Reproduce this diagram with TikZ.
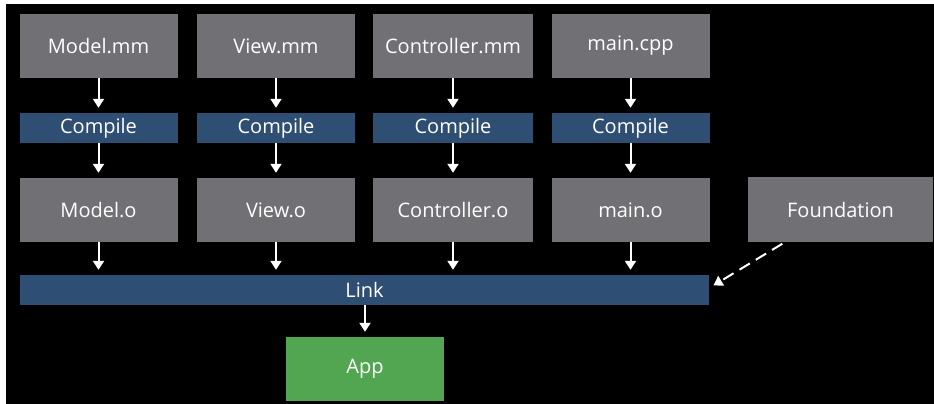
\documentclass[tikz,border=0pt]{standalone}
\usepackage{fontspec}
\setmainfont{Open Sans}
\usetikzlibrary{arrows.meta, calc}
\definecolor{srcgray}{RGB}{113, 112, 117}
\definecolor{stepblue}{RGB}{46, 78, 115}
\definecolor{appgreen}{RGB}{82, 166, 82}

\tikzset{
  srcbox/.style={fill=srcgray, text=white, minimum width=158pt, minimum height=64pt, inner sep=0pt, font=\fontsize{20}{24}\selectfont},
  stepbar/.style={fill=stepblue, text=white, minimum width=158pt, minimum height=30pt, inner sep=0pt, font=\fontsize{20}{24}\selectfont},
  flow/.style={draw=white, line width=2pt, -{Triangle[length=9pt, width=11pt]}, shorten >=5pt}
}

\begin{document}
\begin{tikzpicture}[x=1pt, y=-1pt]
  % Background
  \fill[white] (0, 0) rectangle (934, 404);
  \fill[black] (6, 4) rectangle (934, 404);
  \useasboundingbox (0, 0) rectangle (934, 404);

  % Sources
  \node[srcbox] (modelmm) at (98.5, 46) {Model.mm};
  \node[srcbox] (viewmm) at (276, 46) {View.mm};
  \node[srcbox, minimum width=160pt] (ctrlmm) at (453, 46) {Controller.mm};
  \node[srcbox] (maincpp) at (630.5, 46) {main.cpp};

  % Compile steps
  \node[stepbar] (cmodel) at (98.5, 128) {Compile};
  \node[stepbar] (cview) at (276, 128) {Compile};
  \node[stepbar, minimum width=160pt] (cctrl) at (453, 128) {Compile};
  \node[stepbar] (cmain) at (630.5, 128) {Compile};

  % Object files
  \node[srcbox] (modelo) at (98.5, 210) {Model.o};
  \node[srcbox] (viewo) at (276, 210) {View.o};
  \node[srcbox, minimum width=160pt] (ctrlo) at (453, 210) {Controller.o};
  \node[srcbox] (maino) at (630.5, 210) {main.o};
  \node[srcbox, minimum width=185pt, minimum height=65pt] (found) at (840.5, 209.5) {Foundation};

  % Link and app
  \node[stepbar, minimum width=689pt] (link) at (364.5, 290) {Link};
  \node[srcbox, fill=appgreen] (app) at (365, 369) {App};

  % Arrows
  \draw[flow] (modelmm) -- (cmodel);
  \draw[flow] (viewmm) -- (cview);
  \draw[flow] (ctrlmm) -- (cctrl);
  \draw[flow] (maincpp) -- (cmain);
  \draw[flow] (cmodel) -- (modelo);
  \draw[flow] (cview) -- (viewo);
  \draw[flow] (cctrl) -- (ctrlo);
  \draw[flow] (cmain) -- (maino);
  \draw[flow] (modelo) -- (modelo |- link.north);
  \draw[flow] (viewo) -- (viewo |- link.north);
  \draw[flow] (ctrlo) -- (ctrlo |- link.north);
  \draw[flow] (maino) -- (maino |- link.north);
  \draw[flow] (link.south -| app.north) -- (app);
  \draw[flow, dash pattern=on 12pt off 7pt, shorten <=3pt]
    ($(found.south west)!0.2!(found.south east)$) -- ($(link.east)+(0, -2)$);
\end{tikzpicture}
\end{document}
